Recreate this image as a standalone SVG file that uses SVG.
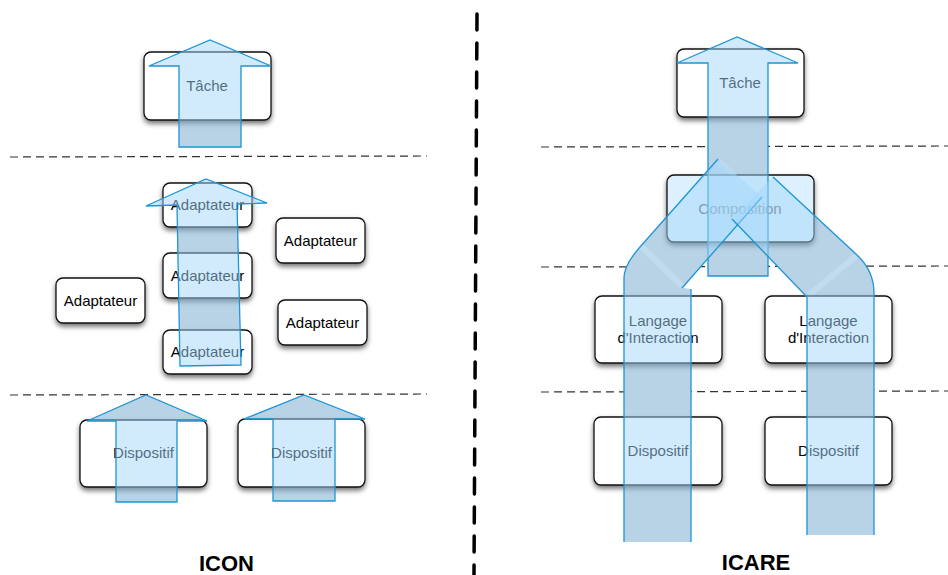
<svg xmlns="http://www.w3.org/2000/svg" width="948" height="575" viewBox="0 0 948 575">
<defs>
<filter id="sh" x="-20%" y="-20%" width="140%" height="160%">
<feDropShadow dx="0" dy="3" stdDeviation="2.5" flood-color="#000" flood-opacity="0.55"/>
</filter>
<style>
.box{fill:#fff;stroke:#111;stroke-width:1.3;filter:url(#sh)}
.t{font-family:"Liberation Sans",Arial,sans-serif;font-size:15px;text-anchor:middle;fill:#000}
.lbl{font-family:"Liberation Sans",Arial,sans-serif;font-size:22px;font-weight:bold;text-anchor:middle;fill:#000}
.dash{stroke:#333;stroke-width:1.2;stroke-dasharray:8 5;fill:none}
.under{fill:#cdcdd0}
.ov{fill:#a3d7fb;fill-opacity:0.5;stroke:#1e95d5;stroke-width:1.3}
.ovf{fill:#a3d7fb;fill-opacity:0.5;stroke:none}
.edge{fill:none;stroke:#1e95d5;stroke-width:1.3}
.hl{stroke:#fff;stroke-opacity:0.4;stroke-width:6;fill:none}
</style>
</defs>

<g id="separators">
<line class="dash" x1="10" y1="157" x2="427" y2="156"/>
<line class="dash" x1="10" y1="395" x2="427" y2="394"/>
<line class="dash" x1="541" y1="147" x2="948" y2="146"/>
<line class="dash" x1="541" y1="267" x2="948" y2="266"/>
<line class="dash" x1="541" y1="392" x2="948" y2="391"/>
<line x1="477" y1="14" x2="474" y2="575" stroke="#000" stroke-width="3.5" stroke-linecap="round" stroke-dasharray="16 13"/>
</g>

<g id="arrow-shadows">
<rect class="under" x="179" y="66" width="62" height="81"/>
<polygon class="under" points="180,366 177,205 237,204 241,365"/>
<polygon class="under" points="116,502 116,421 87,421 146,395 207,421 177,421 177,502"/>
<polygon class="under" points="273,501 273,419 244,419 304,395 365,419 335,419 335,501"/>
<rect class="under" x="708" y="63" width="60" height="213"/>
<path class="under" d="M624,542 V278 Q624,265 640,247 L718,159 L762,197 L682,288 L691,289 V542 Z"/>
<path class="under" d="M807,535 V297 L732,219 L773,177 L857,255 Q874,271 874,293 V535 Z"/>
<line class="hl" x1="641" y1="246" x2="682" y2="286"/>
<line class="hl" x1="856" y1="256" x2="809" y2="295"/>
<line class="hl" x1="719" y1="162" x2="760" y2="199"/>
<line class="hl" x1="772" y1="180" x2="734" y2="219"/>
</g>

<g id="tache-icon"><rect class="box" x="144" y="52" width="127" height="68" rx="7"/><text class="t" x="207" y="91">Tâche</text></g>
<g id="adapt-1"><rect class="box" x="163" y="183" width="89" height="44" rx="7"/><text class="t" x="207.5" y="210">Adaptateur</text></g>
<g id="adapt-2"><rect class="box" x="163" y="253" width="89" height="45" rx="7"/><text class="t" x="207.5" y="281">Adaptateur</text></g>
<g id="adapt-3"><rect class="box" x="163" y="330" width="89" height="44" rx="7"/><text class="t" x="207.5" y="357">Adaptateur</text></g>
<g id="adapt-4"><rect class="box" x="56" y="278" width="89" height="45" rx="7"/><text class="t" x="100.5" y="306">Adaptateur</text></g>
<g id="adapt-5"><rect class="box" x="276" y="218" width="89" height="45" rx="7"/><text class="t" x="320.5" y="246">Adaptateur</text></g>
<g id="adapt-6"><rect class="box" x="278" y="300" width="89" height="45" rx="7"/><text class="t" x="322.5" y="328">Adaptateur</text></g>
<g id="disp-icon-1"><rect class="box" x="80" y="420" width="127" height="67" rx="7"/><text class="t" x="143.5" y="458">Dispositif</text></g>
<g id="disp-icon-2"><rect class="box" x="238" y="419" width="127" height="68" rx="7"/><text class="t" x="301.5" y="458">Dispositif</text></g>

<g id="tache-icare"><rect class="box" x="677" y="49" width="127" height="68" rx="7"/><text class="t" x="740" y="88">Tâche</text></g>
<g id="composition"><rect class="box" x="667" y="175" width="147" height="67" rx="7" style="fill:#dcf0fd"/><text class="t" x="740" y="214" style="fill:#666">Composition</text></g>
<g id="langage-1"><rect class="box" x="595" y="296" width="127" height="67" rx="7"/><text class="t" x="658" y="326">Langage</text><text class="t" x="658" y="343">d'Interaction</text></g>
<g id="langage-2"><rect class="box" x="765" y="296" width="127" height="67" rx="7"/><text class="t" x="828.5" y="326">Langage</text><text class="t" x="828.5" y="343">d'Interaction</text></g>
<g id="disp-icare-1"><rect class="box" x="594" y="417" width="128" height="68" rx="7"/><text class="t" x="658" y="456">Dispositif</text></g>
<g id="disp-icare-2"><rect class="box" x="765" y="417" width="127" height="68" rx="7"/><text class="t" x="828.5" y="456">Dispositif</text></g>

<g id="connectors">
<polygon class="ov" points="179,147 179,66 149,66 210,40 271,66 241,66 241,147"/>
<polygon class="ov" points="180,366 177,205 146,206 206,179 267,203 237,204 241,365"/>
<polygon class="ov" points="116,502 116,421 87,421 146,395 207,421 177,421 177,502"/>
<polygon class="ov" points="273,501 273,419 244,419 304,395 365,419 335,419 335,501"/>
<polygon class="ov" points="708,276 708,63 677,63 737,37 798,63 768,63 768,276"/>
<path class="ovf" d="M624,542 V278 Q624,265 640,247 L718,159 L762,197 L682,288 L691,289 V542 Z"/>
<path class="edge" d="M624,542 V278 Q624,265 640,247 L718,159 M762,197 L682,288 M691,289 V542"/>
<path class="ovf" d="M807,535 V297 L732,219 L773,177 L857,255 Q874,271 874,293 V535 Z"/>
<path class="edge" d="M874,535 V293 Q874,271 857,255 L773,177 M732,219 L807,297 V535"/>
</g>

<g id="labels">
<text class="lbl" x="226.5" y="571">ICON</text>
<text class="lbl" x="756" y="570">ICARE</text>
</g>
</svg>
